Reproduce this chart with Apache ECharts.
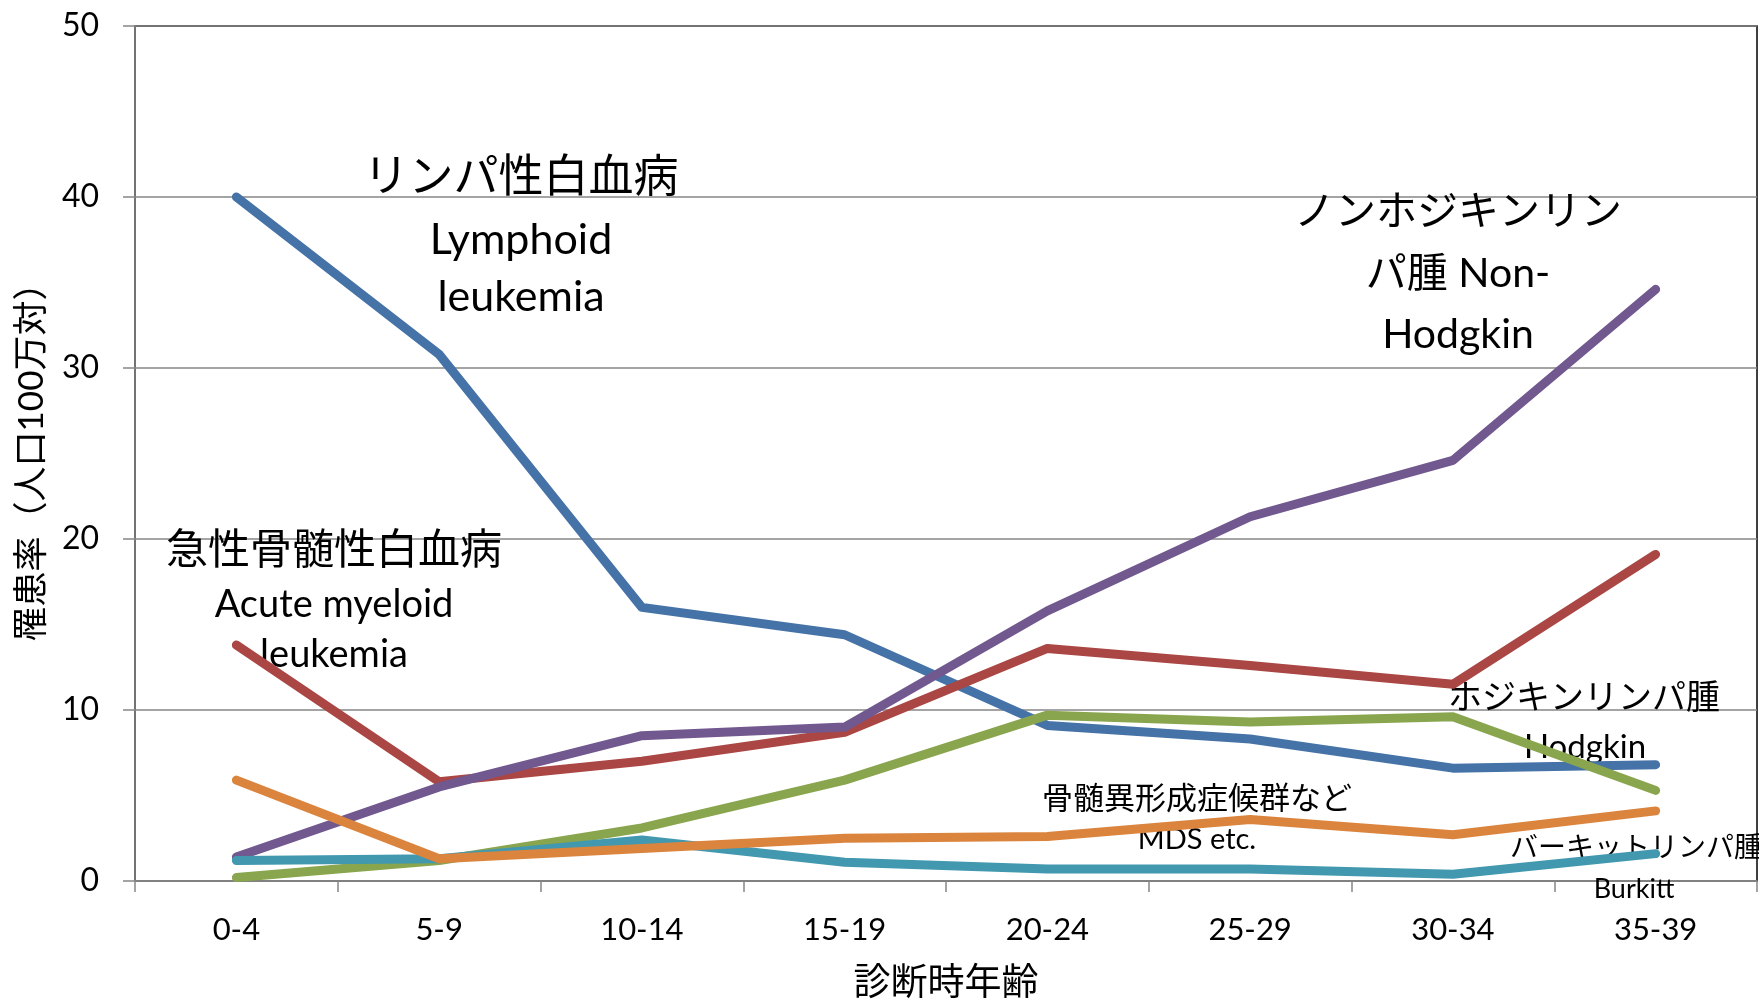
<!DOCTYPE html>
<html>
<head>
<meta charset="utf-8">
<script src="https://cdn.jsdelivr.net/npm/echarts@6/dist/echarts.min.js"></script>
<style>
html,body{margin:0;padding:0;background:#fff;}
#chart{width:1759px;height:1001px;}
</style>
</head>
<body>
<div id="chart"></div>
<script>
// ---- data ----
const categories = ['0-4','5-9','10-14','15-19','20-24','25-29','30-34','35-39'];
const lymphoidLeukemia = [40.0, 30.8, 16.0, 14.4, 9.1, 8.3, 6.6, 6.8];
const acuteMyeloidLeukemia = [13.8, 5.8, 7.0, 8.7, 13.6, 12.6, 11.5, 19.1];
const hodgkin = [0.2, 1.2, 3.1, 5.9, 9.7, 9.3, 9.6, 5.3];
const nonHodgkin = [1.4, 5.5, 8.5, 9.0, 15.8, 21.3, 24.6, 34.6];
const burkitt = [1.2, 1.3, 2.4, 1.1, 0.7, 0.7, 0.4, 1.6];
const mds = [5.9, 1.3, 1.9, 2.5, 2.6, 3.6, 2.7, 4.1];
const yTicks = [0, 10, 20, 30, 40, 50];

const FONT = "Lato, 'Noto Sans CJK JP', sans-serif";
const GRAY = '#868686';

const chart = echarts.init(document.getElementById('chart'), null, {renderer:'canvas'});

function mkLine(name, data, color){
  return {
    name: name, type: 'line', data: data, symbol: 'none',
    lineStyle: {color: color, width: 9, cap: 'round', join: 'round'},
    itemStyle: {color: color}, z: 3
  };
}

function txt(text, x, y, size, align){
  return {
    type: 'text', x: x, y: y, z: 1,
    style: {text: text, fontSize: size, fontFamily: FONT, fill: '#000',
      align: align || 'center', verticalAlign: 'middle'}
  };
}

chart.setOption({
  animation: false,
  backgroundColor: '#fff',
  grid: {left: 135, right: 2, top: 26, bottom: 120, show: true, borderColor: '#000', borderWidth: 1.5,
         containLabel: false, outerBoundsMode: 'none'},
  xAxis: {
    type: 'category', data: categories, boundaryGap: true,
    axisLine: {lineStyle: {color: GRAY, width: 1.5}},
    axisTick: {show: true, length: 11, lineStyle: {color: GRAY, width: 1.5}},
    axisLabel: {color: '#000', fontSize: 31, fontFamily: FONT, margin: 34},
    name: '診断時年齢', nameLocation: 'middle', nameGap: 84,
    nameTextStyle: {color: '#000', fontSize: 37, fontFamily: FONT}
  },
  yAxis: {
    type: 'value', min: yTicks[0], max: yTicks[yTicks.length-1], interval: 10,
    axisLine: {show: true, lineStyle: {color: GRAY, width: 1.5}},
    axisTick: {show: true, length: 12, lineStyle: {color: GRAY, width: 1.5}},
    splitLine: {lineStyle: {color: GRAY, width: 1.5}},
    axisLabel: {color: '#000', fontSize: 32, fontFamily: FONT, margin: 36},
    name: '罹患率（人口100万対）', nameLocation: 'middle', nameGap: 86, nameRotate: 90,
    nameTextStyle: {color: '#000', fontSize: 35, fontFamily: FONT}
  },
  series: [
    mkLine('リンパ性白血病', lymphoidLeukemia, '#4572A7'),
    mkLine('急性骨髄性白血病', acuteMyeloidLeukemia, '#AA4643'),
    mkLine('ホジキンリンパ腫', hodgkin, '#89A54E'),
    mkLine('ノンホジキンリンパ腫', nonHodgkin, '#71588F'),
    mkLine('バーキットリンパ腫', burkitt, '#4198AF'),
    mkLine('骨髄異形成症候群など', mds, '#DB843D')
  ],
  graphic: [
    txt('リンパ性白血病', 521, 177, 45),
    txt('Lymphoid', 521, 240, 43),
    txt('leukemia', 521, 297, 43),
    txt('ノンホジキンリン', 1458, 212, 41),
    txt('パ腫 Non-', 1458, 274, 41),
    txt('Hodgkin', 1458, 335, 41),
    txt('急性骨髄性白血病', 334, 550, 42),
    txt('Acute myeloid', 334, 605, 38),
    txt('leukemia', 334, 655, 38),
    txt('ホジキンリンパ腫', 1584, 698, 34),
    txt('Hodgkin', 1585, 747, 33),
    txt('骨髄異形成症候群など', 1197, 799, 31),
    txt('MDS etc.', 1197, 840, 29),
    txt('バーキットリンパ腫', 1510, 848, 28, 'left'),
    txt('Burkitt', 1634, 889, 27)
  ]
});
</script>
</body>
</html>
